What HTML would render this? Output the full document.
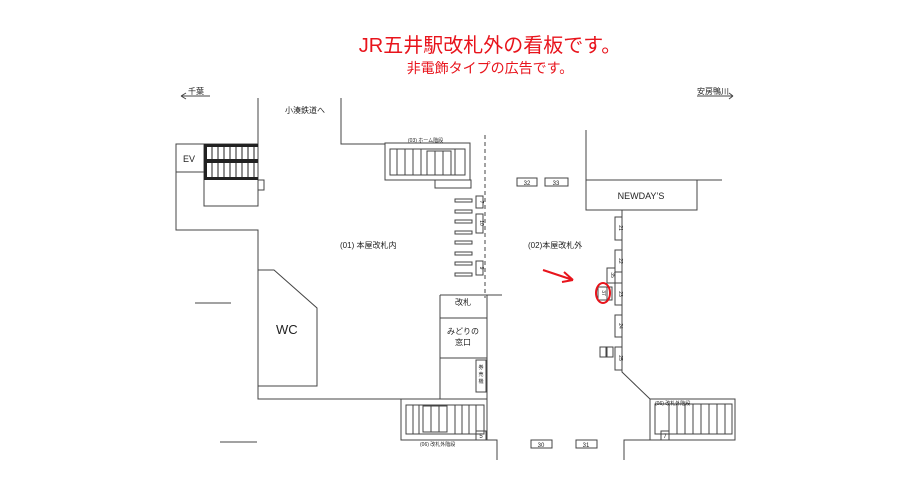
<!DOCTYPE html>
<html><head><meta charset="utf-8"><style>
html,body{margin:0;padding:0;background:#fff;}
svg{display:block;}
text{font-family:"Liberation Sans","Noto Sans CJK JP",sans-serif;fill:#222;}
</style></head><body>
<svg width="919" height="491" viewBox="0 0 919 491" xmlns="http://www.w3.org/2000/svg">
<rect width="919" height="491" fill="#fff"/>
<text x="490" y="52" font-size="20" text-anchor="middle" style="fill:#e8141c">JR五井駅改札外の看板です。</text>
<text x="490" y="73" font-size="14" text-anchor="middle" style="fill:#e8141c">非電飾タイプの広告です。</text>
<g stroke="#444" stroke-width="1" fill="none">
<path d="M181 96 H210 M181 96 l5 -3 M181 96 l5 3"/>
<path d="M697 96 H733 M733 96 l-4 -3 M733 96 l-4 3"/>
<path d="M258 98 V144"/>
<rect x="176" y="144" width="28" height="28"/>
<path d="M176 172 V230 H258 V399 H401"/>
<rect x="204" y="144" width="54" height="62"/>
<rect x="258" y="180" width="6" height="10"/>
<path d="M341 98 V144 H385"/>
<rect x="385" y="143" width="85" height="37"/>
<rect x="390" y="149" width="75" height="26"/>
<path d="M397 149V175M405 149V175M413 149V175M421 149V175M455 149V175"/>
<rect x="427" y="151" width="8" height="24"/><rect x="435" y="151" width="8" height="24"/><rect x="443" y="151" width="8" height="24"/>
<rect x="435" y="180" width="36" height="8"/>
<path d="M485 135 V298" stroke-dasharray="4 3"/>
<g>
<rect x="455" y="199" width="17" height="3"/><rect x="455" y="210" width="17" height="3"/><rect x="455" y="220" width="17" height="3"/><rect x="455" y="231" width="17" height="3"/><rect x="455" y="241" width="17" height="3"/><rect x="455" y="252" width="17" height="3"/><rect x="455" y="262" width="17" height="3"/><rect x="455" y="273" width="17" height="3"/>
</g>
<rect x="476" y="196" width="7" height="12"/><rect x="476" y="214" width="7" height="19"/><rect x="476" y="261" width="7" height="14"/>
<path d="M440 295 H502 M440 295 V399 M487 295 V399 M440 318 H487 M440 358 H487"/>
<rect x="476" y="360" width="10" height="32"/>
<path d="M258 270 H274 L317 308 V386 H258"/>
<path d="M195 303 H231 M220 442 H257"/>
<rect x="401" y="399" width="86" height="41"/>
<rect x="406" y="405" width="78" height="29"/>
<path d="M413 405V434M419 405V434M455 405V434M462 405V434M469 405V434M476 405V434"/>
<rect x="423" y="406" width="8" height="26"/><rect x="431" y="406" width="8" height="26"/><rect x="439" y="406" width="8" height="26"/>
<rect x="476" y="431" width="10" height="9"/>
<path d="M487 440 H497 V460"/>
<rect x="517" y="178" width="20" height="8"/><rect x="545" y="178" width="23" height="8"/>
<path d="M586 130 V180 H722"/>
<rect x="586" y="180" width="111" height="30"/>
<path d="M622 210 V372 L650 399"/>
<rect x="615" y="217" width="7" height="23"/><rect x="615" y="250" width="7" height="22"/>
<rect x="607" y="268" width="8" height="15"/><rect x="615" y="283" width="7" height="22"/>
<rect x="598" y="287" width="9" height="13"/><rect x="607" y="287" width="5" height="13"/>
<rect x="615" y="315" width="7" height="22"/><rect x="615" y="347" width="7" height="23"/>
<rect x="600" y="347" width="6" height="10"/><rect x="607" y="347" width="6" height="10"/>
<rect x="650" y="399" width="85" height="41"/>
<rect x="655" y="404" width="77" height="30"/>
<path d="M669 404V434M677 404V434M685 404V434M693 404V434M701 404V434M709 404V434M717 404V434M725 404V434"/>
<rect x="661" y="431" width="8" height="9"/>
<path d="M650 440 H624 V460"/>
<rect x="531" y="440" width="21" height="8"/><rect x="576" y="440" width="21" height="8"/>
</g>
<g fill="#222">
<rect x="204" y="144" width="54" height="3"/><rect x="204" y="159" width="54" height="4"/><rect x="204" y="177" width="54" height="3"/><rect x="204" y="144" width="3" height="36"/>
</g>
<g stroke="#222" stroke-width="1">
<path d="M212 147V177M218 147V177M224 147V177M230 147V177M236 147V177M242 147V177M248 147V177M254 147V177"/>
</g>
<g stroke="#e8141c" stroke-width="2" fill="none">
<path d="M543 270 L573 280 M573 280 l-9 -8 M573 280 l-11 2"/>
<ellipse cx="603" cy="293" rx="7" ry="10"/>
</g>
<g font-size="8">
<text x="188" y="94">千葉</text>
<text x="697" y="94">安房鴨川</text>
<text x="285" y="113">小湊鉄道へ</text>
<text x="183" y="162" font-size="9">EV</text>
<text x="340" y="248">(01) 本屋改札内</text>
<text x="528" y="248">(02)本屋改札外</text>
<text x="641" y="199" text-anchor="middle" font-size="9">NEWDAY’S</text>
<text x="463" y="305" text-anchor="middle">改札</text>
<text x="463" y="334" text-anchor="middle">みどりの</text>
<text x="463" y="345" text-anchor="middle">窓口</text>
<text x="276" y="334" font-size="13">WC</text>
<text x="527" y="185" font-size="6" text-anchor="middle">32</text>
<text x="556" y="185" font-size="6" text-anchor="middle">33</text>
<text x="541" y="447" font-size="6" text-anchor="middle">30</text>
<text x="586" y="447" font-size="6" text-anchor="middle">31</text>
<text x="481" y="438" font-size="6" text-anchor="middle">5</text>
<text x="665" y="438" font-size="6" text-anchor="middle">7</text>
<text x="408" y="142" font-size="5">(03) ホーム階段</text>
<text x="420" y="446" font-size="5">(06) 改札外階段</text>
<text x="655" y="405" font-size="5">(06) 改札外階段</text>
</g>
<g font-size="5" text-anchor="middle">
<text x="481" y="369">券</text><text x="481" y="376">売</text><text x="481" y="383">機</text>
<text transform="translate(619,228) rotate(90)">21</text>
<text transform="translate(619,261) rotate(90)">22</text>
<text transform="translate(619,294) rotate(90)">23</text>
<text transform="translate(619,326) rotate(90)">24</text>
<text transform="translate(619,358) rotate(90)">25</text>
<text transform="translate(611,275) rotate(90)">35</text>
<text transform="translate(602,293) rotate(90)">37</text>
<text transform="translate(480,202) rotate(90)">7</text>
<text transform="translate(480,223) rotate(90)">10</text>
<text transform="translate(480,268) rotate(90)">9</text>
</g>
</svg>
</body></html>
